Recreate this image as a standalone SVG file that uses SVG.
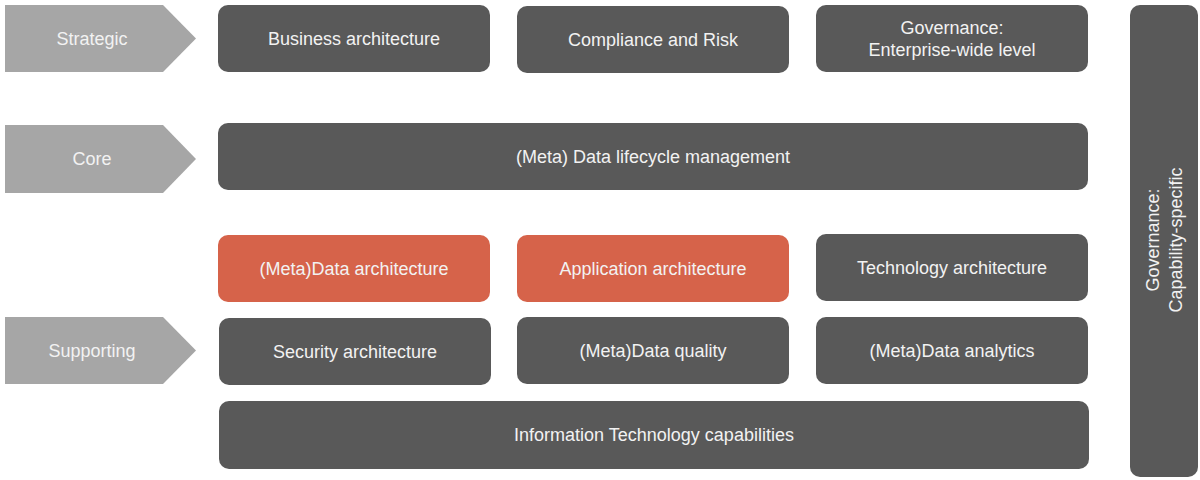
<svg xmlns="http://www.w3.org/2000/svg" width="1200" height="480" viewBox="0 0 1200 480">
<style>
.box{fill:#595959}
.hl{fill:#d6634a}
.chev{fill:#a6a6a6}
text{font-family:"Liberation Sans",Arial,sans-serif;font-size:18px;fill:#f2f2f2;text-anchor:middle;dominant-baseline:central}
</style>
<rect width="1200" height="480" fill="#ffffff"/>
<g id="strategic"><polygon class="chev" points="5,5 163,5 196,38.5 163,72 5,72"/><text x="92" y="39">Strategic</text></g>
<g id="core"><polygon class="chev" points="5,125 163,125 196,159 163,193 5,193"/><text x="92" y="159">Core</text></g>
<g id="supporting"><polygon class="chev" points="5,317 163,317 196,350.5 163,384 5,384"/><text x="92" y="351">Supporting</text></g>

<g id="business"><rect class="box" x="218" y="5" width="272" height="67" rx="10"/><text x="354" y="39">Business architecture</text></g>
<g id="compliance"><rect class="box" x="517" y="6" width="272" height="67" rx="10"/><text x="653" y="40">Compliance and Risk</text></g>
<g id="gov-enterprise"><rect class="box" x="816" y="5" width="272" height="67" rx="10"/><text x="952" y="28">Governance:</text><text x="952" y="50">Enterprise-wide level</text></g>

<g id="lifecycle"><rect class="box" x="218" y="123" width="870" height="67" rx="10"/><text x="653" y="157">(Meta) Data lifecycle management</text></g>

<g id="data-arch"><rect class="hl" x="218" y="235" width="272" height="67" rx="10"/><text x="354" y="269">(Meta)Data architecture</text></g>
<g id="app-arch"><rect class="hl" x="517" y="235" width="272" height="67" rx="10"/><text x="653" y="269">Application architecture</text></g>
<g id="tech-arch"><rect class="box" x="816" y="234" width="272" height="67" rx="10"/><text x="952" y="268">Technology architecture</text></g>

<g id="security"><rect class="box" x="219" y="318" width="272" height="67" rx="10"/><text x="355" y="352">Security architecture</text></g>
<g id="quality"><rect class="box" x="517" y="317" width="272" height="67" rx="10"/><text x="653" y="351">(Meta)Data quality</text></g>
<g id="analytics"><rect class="box" x="816" y="317" width="272" height="67" rx="10"/><text x="952" y="351">(Meta)Data analytics</text></g>

<g id="it-cap"><rect class="box" x="219" y="401" width="870" height="68" rx="10"/><text x="654" y="435">Information Technology capabilities</text></g>

<g id="gov-capability"><rect class="box" x="1130" y="5" width="68" height="472" rx="10"/>
<g transform="translate(1164,240) rotate(-90)"><text x="0" y="-11.5">Governance:</text><text x="0" y="11.5">Capability-specific</text></g></g>
<g id="connectors"></g>
</svg>
